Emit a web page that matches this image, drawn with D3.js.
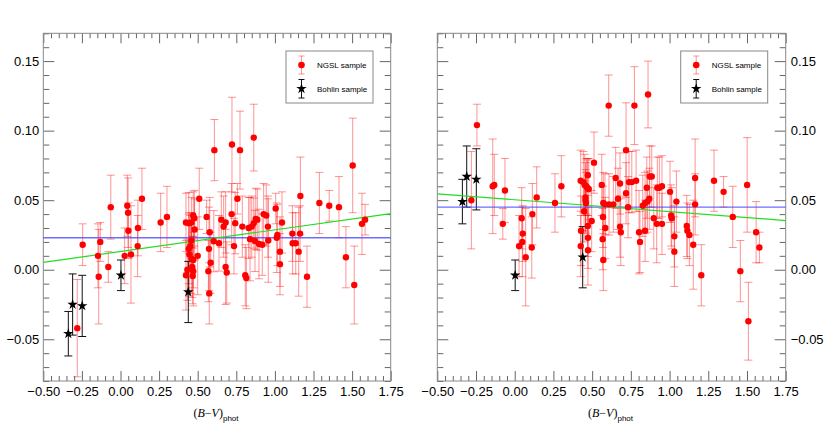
<!DOCTYPE html>
<html><head><meta charset="utf-8">
<script src="https://cdn.jsdelivr.net/npm/d3@7"></script>
<style>body{margin:0;background:#fff}</style>
</head><body>
<svg id="c" width="830" height="426"></svg>
<script>
// ---- data ----
const xTicks = [-0.5, -0.25, 0, 0.25, 0.5, 0.75, 1, 1.25, 1.5, 1.75];
const yTicks = [-0.05, 0, 0.05, 0.10, 0.15];
const xDomain = [-0.5, 1.75];
const yDomain = [-0.08, 0.17];

// [B-V, residual, error]
const ngslLeft = [
[-0.280,-0.042,0.035],[-0.245,0.018,0.015],[-0.146,0.010,0.023],[-0.141,-0.005,0.034],
[-0.131,0.020,0.014],[-0.079,0.002,0.011],[-0.063,0.045,0.023],[0.027,0.010,0.020],
[0.044,0.046,0.022],[0.049,0.041,0.025],[0.051,0.028,0.020],[0.068,0.011,0.035],
[0.111,0.017,0.022],[0.113,0.030,0.020],[0.139,0.051,0.022],[0.260,0.034,0.021],
[0.301,0.038,0.022],[0.424,0.034,0.021],[0.433,0.000,0.022],[0.424,-0.004,0.025],
[0.442,0.0335,0.022],[0.446,0.011,0.030],[0.442,0.015,0.025],[0.452,0.017,0.022],
[0.459,0.021,0.020],[0.459,0.034,0.018],[0.459,0.008,0.025],[0.465,0.002,0.022],
[0.468,-0.0045,0.020],[0.471,0.039,0.017],[0.471,-0.001,0.025],[0.471,0.007,0.020],
[0.478,0.037,0.020],[0.480,0.029,0.022],[0.500,0.010,0.028],[0.510,0.051,0.022],
[0.558,0.038,0.012],[0.569,-0.001,0.022],[0.573,0.015,0.030],[0.575,-0.017,0.022],
[0.578,0.027,0.025],[0.584,0.005,0.022],[0.604,0.0205,0.022],[0.608,0.086,0.022],
[0.638,0.019,0.020],[0.653,0.036,0.020],[0.668,0.031,0.022],[0.681,0.034,0.022],
[0.681,0.002,0.027],[0.688,-0.002,0.022],[0.720,0.040,0.022],[0.722,0.090,0.034],
[0.735,0.017,0.020],[0.743,0.0335,0.022],[0.757,0.051,0.011],[0.774,0.086,0.028],
[0.789,0.031,0.022],[0.808,-0.004,0.022],[0.815,-0.006,0.022],[0.830,0.030,0.022],
[0.839,0.022,0.030],[0.850,0.031,0.022],[0.863,0.0335,0.018],[0.863,0.095,0.024],
[0.871,0.0207,0.022],[0.876,0.0366,0.022],[0.886,0.036,0.022],[0.897,0.0185,0.025],
[0.918,0.018,0.022],[0.927,0.040,0.022],[0.944,0.039,0.022],[0.955,0.031,0.022],
[0.957,0.021,0.030],[1.005,0.044,0.011],[1.012,0.023,0.025],[1.016,0.025,0.022],
[1.033,0.013,0.025],[1.033,0.004,0.022],[1.046,0.034,0.022],[1.113,0.026,0.020],
[1.115,0.019,0.022],[1.135,0.019,0.022],[1.154,0.013,0.032],[1.163,0.026,0.020],
[1.165,0.053,0.028],[1.208,-0.005,0.022],[1.288,0.048,0.022],[1.352,0.046,0.011],
[1.415,0.045,0.022],[1.460,0.009,0.022],[1.504,0.075,0.034],[1.514,-0.011,0.028],
[1.564,0.033,0.022],[1.584,0.036,0.011]
];
const ngslRight = [
[-0.280,0.050,0.035],[-0.244,0.104,0.015],[-0.142,0.060,0.034],[-0.132,0.061,0.022],
[-0.063,0.057,0.023],[-0.077,0.033,0.011],[0.028,0.017,0.022],[0.045,0.037,0.022],
[0.049,0.020,0.025],[0.052,0.026,0.020],[0.071,0.009,0.035],[0.110,0.016,0.022],
[0.114,0.040,0.022],[0.142,0.052,0.022],[0.260,0.048,0.021],[0.301,0.060,0.022],
[0.426,0.064,0.022],[0.426,0.017,0.022],[0.428,0.028,0.025],[0.443,0.063,0.022],
[0.448,0.042,0.022],[0.452,0.061,0.022],[0.457,0.052,0.025],[0.457,0.050,0.022],
[0.460,0.048,0.022],[0.462,0.060,0.020],[0.468,0.059,0.020],[0.472,0.068,0.012],
[0.472,0.0315,0.022],[0.473,0.023,0.022],[0.473,0.014,0.025],[0.478,0.058,0.022],
[0.497,0.035,0.022],[0.512,0.077,0.022],[0.562,0.061,0.022],[0.568,0.022,0.022],
[0.570,0.038,0.022],[0.572,0.048,0.022],[0.572,0.007,0.022],[0.583,0.047,0.022],
[0.585,0.030,0.022],[0.607,0.118,0.022],[0.609,0.047,0.022],[0.637,0.047,0.020],
[0.652,0.066,0.022],[0.667,0.051,0.022],[0.680,0.062,0.022],[0.680,0.031,0.022],
[0.685,0.027,0.024],[0.719,0.055,0.022],[0.719,0.086,0.034],[0.732,0.045,0.022],
[0.738,0.063,0.022],[0.756,0.063,0.022],[0.773,0.118,0.028],[0.784,0.064,0.022],
[0.803,0.027,0.030],[0.809,0.020,0.022],[0.827,0.046,0.022],[0.842,0.028,0.022],
[0.842,0.048,0.022],[0.853,0.059,0.022],[0.857,0.049,0.022],[0.861,0.126,0.024],
[0.869,0.051,0.022],[0.872,0.067,0.022],[0.885,0.067,0.022],[0.898,0.037,0.022],
[0.917,0.033,0.028],[0.921,0.059,0.022],[0.934,0.059,0.022],[0.951,0.060,0.022],
[0.951,0.033,0.022],[1.003,0.056,0.022],[1.010,0.039,0.022],[1.014,0.037,0.022],
[1.031,0.024,0.022],[1.031,0.013,0.025],[1.044,0.049,0.022],[1.111,0.0315,0.022],
[1.115,0.028,0.020],[1.128,0.025,0.022],[1.153,0.018,0.032],[1.165,0.066,0.028],
[1.165,0.047,0.022],[1.205,-0.004,0.022],[1.287,0.064,0.022],[1.349,0.056,0.011],
[1.408,0.038,0.022],[1.457,-0.001,0.022],[1.501,0.061,0.034],[1.509,-0.037,0.028],
[1.559,0.027,0.022],[1.580,0.016,0.011]
];
const bohlinX = [-0.338, -0.310, -0.248, 0.003, 0.439];
const bohlinLeftY = [-0.046, -0.025, -0.026, -0.004, -0.016];
const bohlinLeftErr = [0.016, 0.022, 0.022, 0.011, 0.022];
const bohlinRightY = [0.049, 0.067, 0.065, -0.004, 0.009];
const bohlinRightErr = [0.016, 0.022, 0.022, 0.011, 0.022];
const meanLevel = [0.023, 0.045];          // blue lines
const fitLine = [[0.0131, 0.0156], [0.0503, -0.00853]]; // green lines: intercept, slope
const legendLabels = ["NGSL sample", "Bohlin sample"];

// ---- drawing ----
const svg = d3.select("#c");
const plotTop = 33.3, plotBottom = 381;
const panels = [
  {x0: 43.3, x1: 390.7, ngsl: ngslLeft, by: bohlinLeftY, be: bohlinLeftErr, side: "left", legX: 286},
  {x0: 437.3, x1: 785.7, ngsl: ngslRight, by: bohlinRightY, be: bohlinRightErr, side: "right", legX: 680.7}
];
const y = d3.scaleLinear().domain(yDomain).range([plotBottom, plotTop]);
const xMinor = d3.range(-10, 36).filter(i => i % 5 !== 0).map(i => i * 0.05);
const yMinor = d3.range(-8, 18).filter(i => i % 5 !== 0).map(i => i / 100);
const fmt = d3.format(".2f");
const sans = "'Liberation Sans', Arial, Helvetica, sans-serif";
const star = d3.symbol().type(d3.symbolStar).size(34);

function styleAxis(g) {
  g.select(".domain").remove();
  g.selectAll(".tick line").attr("stroke", "#666").attr("stroke-width", 1);
  g.selectAll(".tick text").attr("fill", "#000").style("font-family", sans).style("font-size", "13px");
}

function errBar(g, cx, yv, e, cap) {
  const y1 = y(yv + e), y2 = y(yv - e);
  g.append("line").attr("x1", cx).attr("x2", cx).attr("y1", y1).attr("y2", y2);
  g.append("line").attr("x1", cx - cap).attr("x2", cx + cap).attr("y1", y1).attr("y2", y1);
  g.append("line").attr("x1", cx - cap).attr("x2", cx + cap).attr("y1", y2).attr("y2", y2);
}

panels.forEach((p, pi) => {
  const x = d3.scaleLinear().domain(xDomain).range([p.x0, p.x1]);
  const g = svg.append("g");

  // axes (inward ticks)
  g.append("g").attr("transform", `translate(0,${plotBottom})`)
    .call(d3.axisBottom(x).tickValues(xTicks).tickSizeInner(-10).tickSizeOuter(0).tickPadding(6)
      .tickFormat(fmt)).call(styleAxis);
  g.append("g").attr("transform", `translate(0,${plotBottom})`)
    .call(d3.axisBottom(x).tickValues(xMinor).tickSizeInner(-5).tickSizeOuter(0).tickFormat("")).call(styleAxis);
  g.append("g").attr("transform", `translate(0,${plotTop})`)
    .call(d3.axisTop(x).tickValues(xTicks).tickSizeInner(-10).tickSizeOuter(0).tickFormat("")).call(styleAxis);
  g.append("g").attr("transform", `translate(0,${plotTop})`)
    .call(d3.axisTop(x).tickValues(xMinor).tickSizeInner(-5).tickSizeOuter(0).tickFormat("")).call(styleAxis);

  const leftAx = d3.axisLeft(y).tickValues(yTicks).tickSizeInner(-11).tickSizeOuter(0).tickPadding(4)
    .tickFormat(p.side === "left" ? fmt : "");
  g.append("g").attr("transform", `translate(${p.x0},0)`).call(leftAx).call(styleAxis);
  g.append("g").attr("transform", `translate(${p.x0},0)`)
    .call(d3.axisLeft(y).tickValues(yMinor).tickSizeInner(-6).tickSizeOuter(0).tickFormat("")).call(styleAxis);
  const rightAx = d3.axisRight(y).tickValues(yTicks).tickSizeInner(-11).tickSizeOuter(0).tickPadding(5)
    .tickFormat(p.side === "right" ? fmt : "");
  g.append("g").attr("transform", `translate(${p.x1},0)`).call(rightAx).call(styleAxis);
  g.append("g").attr("transform", `translate(${p.x1},0)`)
    .call(d3.axisRight(y).tickValues(yMinor).tickSizeInner(-6).tickSizeOuter(0).tickFormat("")).call(styleAxis);

  // frame
  g.append("rect").attr("x", p.x0).attr("y", plotTop).attr("width", p.x1 - p.x0).attr("height", plotBottom - plotTop)
    .attr("fill", "none").attr("stroke", "#888").attr("stroke-width", 1);

  // NGSL error bars
  const eb = g.append("g").attr("stroke", "red").attr("stroke-opacity", 0.42).attr("stroke-width", 1);
  p.ngsl.forEach(d => errBar(eb, x(d[0]), d[1], d[2], 4));

  // Bohlin error bars
  const bb = g.append("g").attr("stroke", "#111").attr("stroke-width", 1);
  bohlinX.forEach((bx, i) => errBar(bb, x(bx), p.by[i], p.be[i], 4));

  // lines
  g.append("line").attr("x1", p.x0).attr("x2", p.x1).attr("y1", y(meanLevel[pi])).attr("y2", y(meanLevel[pi]))
    .attr("stroke", "#4848ff").attr("stroke-width", 1.4).attr("stroke-opacity", 0.8);
  const [a, b] = fitLine[pi];
  g.append("line").attr("x1", x(xDomain[0])).attr("x2", x(xDomain[1]))
    .attr("y1", y(a + b * xDomain[0])).attr("y2", y(a + b * xDomain[1]))
    .attr("stroke", "#22dd22").attr("stroke-width", 1.2);

  // NGSL points
  g.append("g").selectAll("circle").data(p.ngsl).join("circle")
    .attr("cx", d => x(d[0])).attr("cy", d => y(d[1])).attr("r", 3.2).attr("fill", "red");

  // Bohlin stars
  g.append("g").selectAll("path").data(bohlinX).join("path")
    .attr("transform", (bx, i) => `translate(${x(bx)},${y(p.by[i])})`).attr("d", star).attr("fill", "#000");

  // legend
  const lg = g.append("g");
  lg.append("rect").attr("x", p.legX).attr("y", 51).attr("width", 87).attr("height", 52)
    .attr("fill", "#fff").attr("stroke", "#888").attr("stroke-width", 1);
  const sx = p.legX + 15.5;
  const l1 = lg.append("g").attr("stroke", "red").attr("stroke-opacity", 0.42);
  l1.append("line").attr("x1", sx).attr("x2", sx).attr("y1", 56).attr("y2", 74);
  l1.append("line").attr("x1", sx - 3).attr("x2", sx + 3).attr("y1", 56).attr("y2", 56);
  l1.append("line").attr("x1", sx - 3).attr("x2", sx + 3).attr("y1", 74).attr("y2", 74);
  lg.append("circle").attr("cx", sx).attr("cy", 65).attr("r", 3.3).attr("fill", "red");
  const l2 = lg.append("g").attr("stroke", "#111");
  l2.append("line").attr("x1", sx).attr("x2", sx).attr("y1", 79.5).attr("y2", 98);
  l2.append("line").attr("x1", sx - 3).attr("x2", sx + 3).attr("y1", 79.5).attr("y2", 79.5);
  l2.append("line").attr("x1", sx - 3).attr("x2", sx + 3).attr("y1", 98).attr("y2", 98);
  lg.append("path").attr("transform", `translate(${sx},88.7)`).attr("d", star).attr("fill", "#000");
  legendLabels.forEach((t, i) => {
    lg.append("text").attr("x", p.legX + 31).attr("y", i === 0 ? 65 : 88.7).attr("dy", "0.35em")
      .style("font-family", sans).style("font-size", "8px").attr("fill", "#000").text(t);
  });

  // axis title
  const cx = (p.x0 + p.x1) / 2;
  const tt = g.append("text").attr("x", cx - 1).attr("y", 417).attr("text-anchor", "middle")
    .style("font-family", "'Liberation Serif', 'Times New Roman', serif").style("font-size", "12px").attr("fill", "#000");
  tt.append("tspan").text("(");
  tt.append("tspan").style("font-style", "italic").text("B");
  tt.append("tspan").text("\u2212");
  tt.append("tspan").style("font-style", "italic").text("V");
  tt.append("tspan").text(")");
  tt.append("tspan").attr("dy", 4).style("font-family", sans).style("font-size", "8px").text("phot");
});
</script>
</body></html>
